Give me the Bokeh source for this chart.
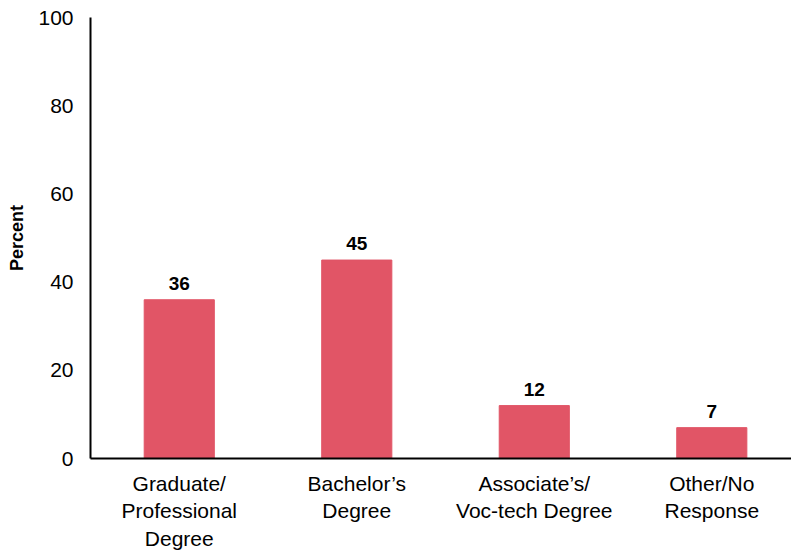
import numpy as np
from bokeh.plotting import figure
from bokeh.models import ColumnDataSource, Range1d, FixedTicker, LabelSet
from bokeh.core.properties import value
from bokeh.embed import file_html
from bokeh.resources import INLINE

categories = ["Graduate/\nProfessional\nDegree", "Bachelor’s\nDegree",
              "Associate’s/\nVoc-tech Degree", "Other/No\nResponse"]
values = [36, 45, 12, 7]
y_ticks = [0, 20, 40, 60, 80, 100]

FONT = "Liberation Sans"
BAR = "#E15566"

pos = np.arange(len(categories)) + 0.5
src = ColumnDataSource(dict(x=pos, top=values, label=[str(v) for v in values]))

p = figure(width=791, height=552, output_backend="svg", toolbar_location=None,
           x_range=Range1d(0, 3.949), y_range=Range1d(0, 100),
           min_border_left=90, min_border_right=0, min_border_top=17, min_border_bottom=93)
p.outline_line_color = None
p.grid.visible = False

p.vbar(x="x", top="top", width=0.395, source=src, color=BAR)

labels = LabelSet(x="x", y="top", text="label", source=src, text_align="center",
                  text_baseline="alphabetic", y_offset=10,
                  text_font=value(FONT), text_font_size=value("19px"),
                  text_font_style="bold", text_color="black")
p.add_layout(labels)

p.xaxis.ticker = FixedTicker(ticks=list(pos))
p.xaxis.major_label_overrides = {float(x): c for x, c in zip(pos, categories)}
p.yaxis.ticker = FixedTicker(ticks=y_ticks)

for ax in (p.xaxis[0], p.yaxis[0]):
    ax.axis_line_color = "black"
    ax.axis_line_width = 2
    ax.major_tick_line_color = None
    ax.minor_tick_line_color = None
    ax.major_tick_out = 0
    ax.major_tick_in = 0
    ax.minor_tick_out = 0
    ax.minor_tick_in = 0
    ax.major_label_text_font = FONT
    ax.major_label_text_font_size = "21px"
    ax.major_label_text_color = "black"

p.xaxis.major_label_standoff = 13
p.yaxis.major_label_standoff = 17
p.yaxis.axis_label = "Percent"
p.yaxis.axis_label_text_font = FONT
p.yaxis.axis_label_text_font_size = "18px"
p.yaxis.axis_label_text_font_style = "bold"
p.yaxis.axis_label_text_color = "black"
p.yaxis.axis_label_standoff = 8

open("out.html", "w").write(file_html(p, INLINE))
